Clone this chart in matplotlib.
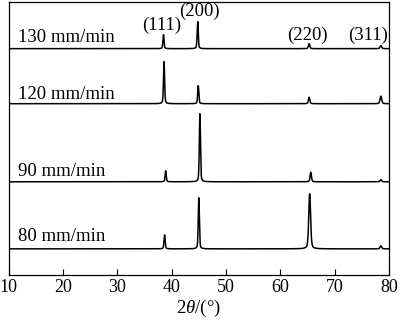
import numpy as np
import matplotlib.pyplot as plt

plt.rcParams['font.family'] = ['Liberation Serif', 'DejaVu Serif']
plt.rcParams['mathtext.fontset'] = 'custom'
plt.rcParams['mathtext.rm'] = 'Liberation Serif'
plt.rcParams['mathtext.it'] = 'Liberation Serif:italic'

# samples, bottom to top
speeds = ['80 mm/min', '90 mm/min', '120 mm/min', '130 mm/min']
offsets = [26, 93, 171, 226]

# peak positions (2theta) per sample: (111), (200), (220), (311)
positions = [
    [38.7, 45.0, 65.4, 78.5],
    [38.9, 45.2, 65.6, 78.5],
    [38.6, 44.9, 65.3, 78.5],
    [38.5, 44.8, 65.3, 78.5],
]
heights = [
    [14, 51, 55, 3],
    [11, 68, 9.5, 2],
    [42, 18, 6.5, 7.5],
    [14, 27, 5, 3],
]
widths = [
    [0.25, 0.24, 0.4, 0.35],
    [0.25, 0.24, 0.3, 0.35],
    [0.24, 0.24, 0.3, 0.35],
    [0.24, 0.24, 0.3, 0.35],
]

hkl = ['(111)', '(200)', '(220)', '(311)']
hkl_x = [38.2, 45.2, 65.0, 76.1]
hkl_y = [249, 263, 239.5, 239.5]
label_y = [38, 103.5, 180.5, 237]


def profile(x, pos, h, w):
    # pseudo-Voigt peaks
    y = np.zeros_like(x)
    for p, a, fw in zip(pos, h, w):
        g = np.exp(-4 * np.log(2) * ((x - p) / fw) ** 2)
        l = 1 / (1 + 4 * ((x - p) / fw) ** 2)
        y += a * (0.6 * g + 0.4 * l)
    return y


x = np.arange(10, 80.001, 0.01)

fig = plt.figure(figsize=(4, 3.2), dpi=100)
ax = fig.add_axes([0.0215, 0.141, 0.951, 0.854])

for i in range(len(speeds)):
    y = offsets[i] + profile(x, positions[i], heights[i], widths[i])
    ax.plot(x, y, color='black', lw=1.1)
    ax.text(11.8, label_y[i], speeds[i], fontsize=13.5, va='center', ha='left')

for t, tx, ty in zip(hkl, hkl_x, hkl_y):
    ax.text(tx, ty, t, fontsize=13.5, ha='center', va='center')

ax.set_xlim(10, 80)
ax.set_ylim(0, 273)
ax.set_xticks(np.arange(10, 81, 10))
ax.set_yticks([])
ax.tick_params(axis='x', direction='in', length=4.5, width=0.8, labelsize=13, pad=3)
for s in ax.spines.values():
    s.set_linewidth(0.9)
ax.set_xlabel(r'$2\theta$/(°)', fontsize=13.5, labelpad=1)

fig.savefig('out.png', dpi=100)
